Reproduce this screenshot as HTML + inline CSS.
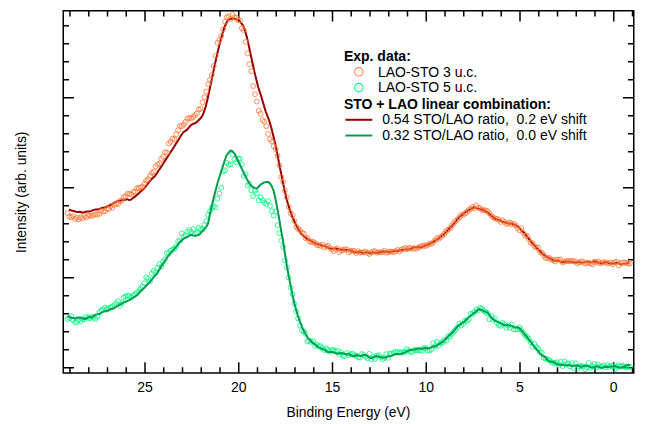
<!DOCTYPE html>
<html><head><meta charset="utf-8"><title>chart</title>
<style>
html,body{margin:0;padding:0;background:#fff;}
svg{display:block;}
text{font-family:"Liberation Sans",sans-serif;font-size:14px;fill:#000;white-space:pre;}
.b{font-weight:bold;}
</style></head><body>
<svg width="664" height="424" viewBox="0 0 664 424">
<rect x="0" y="0" width="664" height="424" fill="#fff"/>
<rect x="63.25" y="10.75" width="570.5" height="362.25" fill="none" stroke="#000" stroke-width="1.5"/>
<path d="M632.50,373.0 v-5.75 M632.50,10.75 v5.75 M613.75,373.0 v-10.75 M613.75,10.75 v10.75 M595.00,373.0 v-5.75 M595.00,10.75 v5.75 M576.25,373.0 v-5.75 M576.25,10.75 v5.75 M557.50,373.0 v-5.75 M557.50,10.75 v5.75 M538.75,373.0 v-5.75 M538.75,10.75 v5.75 M520.00,373.0 v-10.75 M520.00,10.75 v10.75 M501.25,373.0 v-5.75 M501.25,10.75 v5.75 M482.50,373.0 v-5.75 M482.50,10.75 v5.75 M463.75,373.0 v-5.75 M463.75,10.75 v5.75 M445.00,373.0 v-5.75 M445.00,10.75 v5.75 M426.25,373.0 v-10.75 M426.25,10.75 v10.75 M407.50,373.0 v-5.75 M407.50,10.75 v5.75 M388.75,373.0 v-5.75 M388.75,10.75 v5.75 M370.00,373.0 v-5.75 M370.00,10.75 v5.75 M351.25,373.0 v-5.75 M351.25,10.75 v5.75 M332.50,373.0 v-10.75 M332.50,10.75 v10.75 M313.75,373.0 v-5.75 M313.75,10.75 v5.75 M295.00,373.0 v-5.75 M295.00,10.75 v5.75 M276.25,373.0 v-5.75 M276.25,10.75 v5.75 M257.50,373.0 v-5.75 M257.50,10.75 v5.75 M238.75,373.0 v-10.75 M238.75,10.75 v10.75 M220.00,373.0 v-5.75 M220.00,10.75 v5.75 M201.25,373.0 v-5.75 M201.25,10.75 v5.75 M182.50,373.0 v-5.75 M182.50,10.75 v5.75 M163.75,373.0 v-5.75 M163.75,10.75 v5.75 M145.00,373.0 v-10.75 M145.00,10.75 v10.75 M126.25,373.0 v-5.75 M126.25,10.75 v5.75 M107.50,373.0 v-5.75 M107.50,10.75 v5.75 M88.75,373.0 v-5.75 M88.75,10.75 v5.75 M70.00,373.0 v-5.75 M70.00,10.75 v5.75 M63.25,25.7 h5.75 M633.75,25.7 h-5.75 M63.25,43.7 h5.75 M633.75,43.7 h-5.75 M63.25,61.7 h5.75 M633.75,61.7 h-5.75 M63.25,79.7 h5.75 M633.75,79.7 h-5.75 M63.25,97.7 h10.75 M633.75,97.7 h-10.75 M63.25,115.7 h5.75 M633.75,115.7 h-5.75 M63.25,133.7 h5.75 M633.75,133.7 h-5.75 M63.25,151.7 h5.75 M633.75,151.7 h-5.75 M63.25,169.7 h5.75 M633.75,169.7 h-5.75 M63.25,187.7 h10.75 M633.75,187.7 h-10.75 M63.25,205.7 h5.75 M633.75,205.7 h-5.75 M63.25,223.7 h5.75 M633.75,223.7 h-5.75 M63.25,241.7 h5.75 M633.75,241.7 h-5.75 M63.25,259.7 h5.75 M633.75,259.7 h-5.75 M63.25,277.7 h10.75 M633.75,277.7 h-10.75 M63.25,295.7 h5.75 M633.75,295.7 h-5.75 M63.25,313.7 h5.75 M633.75,313.7 h-5.75 M63.25,331.7 h5.75 M633.75,331.7 h-5.75 M63.25,349.7 h5.75 M633.75,349.7 h-5.75 M63.25,367.7 h10.75 M633.75,367.7 h-10.75" fill="none" stroke="#000" stroke-width="1.5"/>
<path d="M68.75,209.63 L70.62,210.16 L72.50,210.83 L74.38,211.15 L76.25,211.71 L78.12,211.98 L80.00,211.81 L81.88,212.44 L83.75,212.44 L85.62,211.73 L87.50,211.49 L89.38,211.38 L91.25,210.89 L93.12,210.11 L95.00,209.60 L96.88,209.61 L98.75,209.30 L100.62,208.39 L102.50,207.77 L104.38,207.65 L106.25,206.80 L108.12,205.99 L110.00,205.55 L111.88,204.29 L113.75,202.93 L115.62,201.96 L117.50,201.31 L119.38,201.11 L121.25,200.40 L123.12,199.77 L125.00,199.67 L126.88,199.18 L128.75,199.91 L130.62,199.86 L132.50,198.52 L134.38,196.97 L136.25,195.60 L138.12,193.97 L140.00,192.11 L141.88,190.45 L143.75,188.85 L145.62,186.60 L147.50,184.18 L149.38,181.70 L151.25,179.57 L153.12,177.86 L155.00,175.94 L156.88,173.23 L158.75,170.28 L160.62,167.62 L162.50,164.69 L164.38,161.74 L166.25,158.91 L168.12,156.04 L170.00,153.08 L171.88,150.24 L173.75,147.21 L175.62,144.17 L177.50,141.40 L179.38,138.33 L181.25,135.19 L183.12,132.47 L185.00,131.18 L186.88,129.84 L188.75,127.69 L190.62,125.30 L192.50,124.07 L194.38,123.58 L196.25,122.38 L198.12,120.77 L200.00,118.77 L201.88,116.76 L203.75,112.56 L205.62,107.00 L207.50,99.21 L209.38,90.45 L211.25,81.72 L213.12,72.87 L215.00,64.07 L216.88,55.43 L218.75,47.60 L220.62,40.03 L222.50,33.43 L224.38,27.41 L226.25,23.23 L228.12,20.09 L230.00,18.99 L231.88,18.75 L233.75,18.55 L235.62,18.90 L237.50,19.90 L239.38,21.10 L241.25,23.07 L243.12,25.52 L245.00,30.63 L246.88,37.10 L248.75,45.55 L250.62,54.17 L252.50,62.87 L254.38,71.62 L256.25,79.31 L258.12,86.79 L260.00,92.63 L261.88,98.42 L263.75,105.08 L265.62,111.24 L267.50,116.17 L269.38,121.01 L271.25,127.52 L273.12,134.97 L275.00,142.54 L276.88,151.96 L278.75,161.53 L280.62,171.08 L282.50,180.48 L284.38,189.49 L286.25,197.45 L288.12,204.50 L290.00,210.61 L291.88,215.26 L293.75,219.92 L295.62,224.03 L297.50,228.05 L299.38,230.81 L301.25,233.67 L303.12,235.47 L305.00,237.24 L306.88,238.62 L308.75,239.74 L310.62,240.71 L312.50,241.76 L314.38,242.96 L316.25,243.82 L318.12,244.17 L320.00,244.75 L321.88,245.55 L323.75,245.86 L325.62,246.36 L327.50,247.43 L329.38,248.21 L331.25,248.64 L333.12,248.63 L335.00,248.44 L336.88,248.70 L338.75,249.30 L340.62,249.67 L342.50,249.78 L344.38,249.81 L346.25,249.91 L348.12,250.11 L350.00,250.19 L351.88,250.87 L353.75,251.87 L355.62,252.55 L357.50,252.38 L359.38,251.80 L361.25,252.33 L363.12,253.11 L365.00,252.76 L366.88,252.24 L368.75,252.84 L370.62,253.13 L372.50,252.34 L374.38,252.64 L376.25,252.99 L378.12,252.57 L380.00,252.36 L381.88,251.84 L383.75,251.44 L385.62,251.58 L387.50,251.82 L389.38,252.00 L391.25,251.77 L393.12,251.12 L395.00,251.03 L396.88,251.31 L398.75,250.69 L400.62,249.95 L402.50,249.82 L404.38,249.62 L406.25,249.43 L408.12,249.47 L410.00,249.32 L411.88,248.39 L413.75,247.20 L415.62,247.13 L417.50,247.47 L419.38,247.37 L421.25,247.06 L423.12,246.29 L425.00,245.59 L426.88,245.20 L428.75,244.18 L430.62,243.15 L432.50,242.42 L434.38,241.13 L436.25,240.19 L438.12,239.12 L440.00,237.38 L441.88,235.80 L443.75,234.57 L445.62,232.41 L447.50,230.23 L449.38,228.47 L451.25,226.66 L453.12,224.55 L455.00,222.30 L456.88,219.96 L458.75,217.60 L460.62,215.85 L462.50,214.45 L464.38,213.08 L466.25,211.52 L468.12,210.45 L470.00,209.32 L471.88,208.32 L473.75,207.49 L475.62,207.82 L477.50,208.31 L479.38,208.92 L481.25,209.25 L483.12,209.97 L485.00,210.87 L486.88,212.05 L488.75,213.55 L490.62,215.18 L492.50,216.57 L494.38,218.21 L496.25,219.39 L498.12,219.89 L500.00,220.55 L501.88,221.53 L503.75,222.04 L505.62,222.51 L507.50,223.23 L509.38,223.42 L511.25,223.53 L513.12,224.19 L515.00,225.15 L516.88,225.74 L518.75,227.22 L520.62,229.44 L522.50,231.45 L524.38,233.15 L526.25,235.39 L528.12,237.98 L530.00,240.42 L531.88,242.73 L533.75,244.75 L535.62,246.79 L537.50,248.84 L539.38,250.84 L541.25,252.58 L543.12,254.17 L545.00,255.67 L546.88,256.88 L548.75,257.64 L550.62,258.69 L552.50,259.88 L554.38,260.90 L556.25,260.92 L558.12,260.56 L560.00,261.42 L561.88,262.35 L563.75,262.00 L565.62,261.59 L567.50,261.65 L569.38,261.74 L571.25,261.94 L573.12,262.23 L575.00,262.61 L576.88,262.36 L578.75,262.02 L580.62,262.53 L582.50,262.75 L584.38,262.29 L586.25,261.67 L588.12,261.65 L590.00,262.43 L591.88,262.20 L593.75,261.30 L595.62,261.54 L597.50,262.64 L599.38,263.30 L601.25,263.26 L603.12,262.94 L605.00,262.24 L606.88,262.29 L608.75,263.23 L610.62,263.45 L612.50,263.45 L614.38,263.46 L616.25,262.87 L618.12,262.97 L620.00,264.02 L621.88,264.38 L623.75,264.00 L625.62,263.66 L627.50,263.08 L629.38,262.73" fill="none" stroke="#990000" stroke-width="2" stroke-linejoin="round"/>
<g fill="none" stroke="#FF7535" stroke-width="0.8"><circle cx="67.50" cy="213.15" r="2.45"/><circle cx="69.38" cy="216.44" r="2.45"/><circle cx="71.25" cy="217.43" r="2.45"/><circle cx="73.12" cy="216.10" r="2.45"/><circle cx="75.00" cy="218.83" r="2.45"/><circle cx="76.88" cy="217.73" r="2.45"/><circle cx="78.75" cy="219.27" r="2.45"/><circle cx="80.62" cy="217.44" r="2.45"/><circle cx="82.50" cy="218.49" r="2.45"/><circle cx="84.38" cy="216.03" r="2.45"/><circle cx="86.25" cy="217.38" r="2.45"/><circle cx="88.12" cy="215.67" r="2.45"/><circle cx="90.00" cy="215.55" r="2.45"/><circle cx="91.88" cy="215.93" r="2.45"/><circle cx="93.75" cy="214.92" r="2.45"/><circle cx="95.62" cy="214.15" r="2.45"/><circle cx="97.50" cy="214.58" r="2.45"/><circle cx="99.38" cy="213.81" r="2.45"/><circle cx="101.25" cy="210.43" r="2.45"/><circle cx="103.12" cy="211.81" r="2.45"/><circle cx="105.00" cy="211.08" r="2.45"/><circle cx="106.88" cy="208.56" r="2.45"/><circle cx="108.75" cy="209.03" r="2.45"/><circle cx="110.62" cy="206.02" r="2.45"/><circle cx="112.50" cy="207.99" r="2.45"/><circle cx="114.38" cy="204.74" r="2.45"/><circle cx="116.25" cy="203.66" r="2.45"/><circle cx="118.12" cy="203.90" r="2.45"/><circle cx="120.00" cy="201.03" r="2.45"/><circle cx="121.88" cy="200.65" r="2.45"/><circle cx="123.75" cy="197.23" r="2.45"/><circle cx="125.62" cy="196.31" r="2.45"/><circle cx="127.50" cy="193.80" r="2.45"/><circle cx="129.38" cy="193.99" r="2.45"/><circle cx="131.25" cy="194.27" r="2.45"/><circle cx="133.12" cy="192.03" r="2.45"/><circle cx="135.00" cy="191.60" r="2.45"/><circle cx="136.88" cy="188.44" r="2.45"/><circle cx="138.75" cy="187.84" r="2.45"/><circle cx="140.62" cy="187.57" r="2.45"/><circle cx="142.50" cy="186.60" r="2.45"/><circle cx="144.38" cy="183.68" r="2.45"/><circle cx="146.25" cy="180.67" r="2.45"/><circle cx="148.12" cy="179.15" r="2.45"/><circle cx="150.00" cy="175.80" r="2.45"/><circle cx="151.88" cy="172.97" r="2.45"/><circle cx="153.75" cy="171.72" r="2.45"/><circle cx="155.62" cy="166.28" r="2.45"/><circle cx="157.50" cy="164.50" r="2.45"/><circle cx="159.38" cy="163.62" r="2.45"/><circle cx="161.25" cy="158.76" r="2.45"/><circle cx="163.12" cy="156.79" r="2.45"/><circle cx="165.00" cy="152.16" r="2.45"/><circle cx="166.88" cy="152.56" r="2.45"/><circle cx="168.75" cy="143.51" r="2.45"/><circle cx="170.62" cy="141.80" r="2.45"/><circle cx="172.50" cy="138.65" r="2.45"/><circle cx="174.38" cy="139.27" r="2.45"/><circle cx="176.25" cy="134.18" r="2.45"/><circle cx="178.12" cy="130.20" r="2.45"/><circle cx="180.00" cy="125.92" r="2.45"/><circle cx="181.88" cy="126.13" r="2.45"/><circle cx="183.75" cy="124.50" r="2.45"/><circle cx="185.62" cy="121.87" r="2.45"/><circle cx="187.50" cy="118.90" r="2.45"/><circle cx="189.38" cy="117.82" r="2.45"/><circle cx="191.25" cy="118.33" r="2.45"/><circle cx="193.12" cy="116.98" r="2.45"/><circle cx="195.00" cy="115.18" r="2.45"/><circle cx="196.88" cy="113.42" r="2.45"/><circle cx="198.75" cy="109.50" r="2.45"/><circle cx="200.62" cy="108.76" r="2.45"/><circle cx="202.50" cy="102.29" r="2.45"/><circle cx="204.38" cy="97.34" r="2.45"/><circle cx="206.25" cy="91.51" r="2.45"/><circle cx="208.12" cy="84.13" r="2.45"/><circle cx="210.00" cy="79.79" r="2.45"/><circle cx="211.88" cy="74.95" r="2.45"/><circle cx="213.75" cy="66.05" r="2.45"/><circle cx="215.62" cy="55.92" r="2.45"/><circle cx="217.50" cy="42.79" r="2.45"/><circle cx="219.38" cy="40.10" r="2.45"/><circle cx="221.25" cy="36.17" r="2.45"/><circle cx="223.12" cy="29.35" r="2.45"/><circle cx="225.00" cy="21.81" r="2.45"/><circle cx="226.88" cy="17.32" r="2.45"/><circle cx="228.75" cy="16.35" r="2.45"/><circle cx="230.62" cy="19.10" r="2.45"/><circle cx="232.50" cy="14.92" r="2.45"/><circle cx="234.38" cy="17.41" r="2.45"/><circle cx="236.25" cy="17.72" r="2.45"/><circle cx="238.12" cy="20.02" r="2.45"/><circle cx="240.00" cy="20.46" r="2.45"/><circle cx="241.88" cy="28.25" r="2.45"/><circle cx="243.75" cy="30.07" r="2.45"/><circle cx="245.62" cy="41.84" r="2.45"/><circle cx="247.50" cy="53.37" r="2.45"/><circle cx="249.38" cy="64.22" r="2.45"/><circle cx="251.25" cy="71.18" r="2.45"/><circle cx="253.12" cy="86.05" r="2.45"/><circle cx="255.00" cy="94.12" r="2.45"/><circle cx="256.88" cy="101.56" r="2.45"/><circle cx="258.75" cy="110.77" r="2.45"/><circle cx="260.62" cy="113.73" r="2.45"/><circle cx="262.50" cy="120.10" r="2.45"/><circle cx="264.38" cy="121.69" r="2.45"/><circle cx="266.25" cy="126.21" r="2.45"/><circle cx="268.12" cy="134.05" r="2.45"/><circle cx="270.00" cy="139.23" r="2.45"/><circle cx="271.88" cy="141.45" r="2.45"/><circle cx="273.75" cy="146.24" r="2.45"/><circle cx="275.62" cy="149.09" r="2.45"/><circle cx="277.50" cy="155.68" r="2.45"/><circle cx="279.38" cy="165.32" r="2.45"/><circle cx="281.25" cy="176.95" r="2.45"/><circle cx="283.12" cy="181.87" r="2.45"/><circle cx="285.00" cy="190.64" r="2.45"/><circle cx="286.88" cy="197.38" r="2.45"/><circle cx="288.75" cy="206.63" r="2.45"/><circle cx="290.62" cy="213.09" r="2.45"/><circle cx="292.50" cy="215.42" r="2.45"/><circle cx="294.38" cy="220.88" r="2.45"/><circle cx="296.25" cy="226.79" r="2.45"/><circle cx="298.12" cy="228.82" r="2.45"/><circle cx="300.00" cy="230.33" r="2.45"/><circle cx="301.88" cy="232.68" r="2.45"/><circle cx="303.75" cy="233.70" r="2.45"/><circle cx="305.62" cy="238.25" r="2.45"/><circle cx="307.50" cy="237.97" r="2.45"/><circle cx="309.38" cy="241.16" r="2.45"/><circle cx="311.25" cy="242.15" r="2.45"/><circle cx="313.12" cy="241.69" r="2.45"/><circle cx="315.00" cy="242.96" r="2.45"/><circle cx="316.88" cy="245.05" r="2.45"/><circle cx="318.75" cy="245.15" r="2.45"/><circle cx="320.62" cy="245.96" r="2.45"/><circle cx="322.50" cy="244.57" r="2.45"/><circle cx="324.38" cy="247.72" r="2.45"/><circle cx="326.25" cy="246.49" r="2.45"/><circle cx="328.12" cy="245.71" r="2.45"/><circle cx="330.00" cy="247.88" r="2.45"/><circle cx="331.88" cy="249.21" r="2.45"/><circle cx="333.75" cy="251.17" r="2.45"/><circle cx="335.62" cy="248.97" r="2.45"/><circle cx="337.50" cy="248.29" r="2.45"/><circle cx="339.38" cy="252.03" r="2.45"/><circle cx="341.25" cy="250.29" r="2.45"/><circle cx="343.12" cy="250.05" r="2.45"/><circle cx="345.00" cy="249.42" r="2.45"/><circle cx="346.88" cy="249.68" r="2.45"/><circle cx="348.75" cy="252.35" r="2.45"/><circle cx="350.62" cy="250.79" r="2.45"/><circle cx="352.50" cy="250.71" r="2.45"/><circle cx="354.38" cy="250.93" r="2.45"/><circle cx="356.25" cy="253.19" r="2.45"/><circle cx="358.12" cy="251.23" r="2.45"/><circle cx="360.00" cy="252.62" r="2.45"/><circle cx="361.88" cy="252.36" r="2.45"/><circle cx="363.75" cy="252.43" r="2.45"/><circle cx="365.62" cy="251.41" r="2.45"/><circle cx="367.50" cy="253.03" r="2.45"/><circle cx="369.38" cy="254.06" r="2.45"/><circle cx="371.25" cy="252.45" r="2.45"/><circle cx="373.12" cy="251.59" r="2.45"/><circle cx="375.00" cy="251.22" r="2.45"/><circle cx="376.88" cy="252.69" r="2.45"/><circle cx="378.75" cy="252.23" r="2.45"/><circle cx="380.62" cy="252.35" r="2.45"/><circle cx="382.50" cy="252.32" r="2.45"/><circle cx="384.38" cy="250.71" r="2.45"/><circle cx="386.25" cy="252.81" r="2.45"/><circle cx="388.12" cy="252.12" r="2.45"/><circle cx="390.00" cy="251.68" r="2.45"/><circle cx="391.88" cy="251.73" r="2.45"/><circle cx="393.75" cy="252.17" r="2.45"/><circle cx="395.62" cy="251.05" r="2.45"/><circle cx="397.50" cy="249.90" r="2.45"/><circle cx="399.38" cy="251.60" r="2.45"/><circle cx="401.25" cy="249.69" r="2.45"/><circle cx="403.12" cy="249.09" r="2.45"/><circle cx="405.00" cy="247.93" r="2.45"/><circle cx="406.88" cy="249.23" r="2.45"/><circle cx="408.75" cy="247.88" r="2.45"/><circle cx="410.62" cy="248.13" r="2.45"/><circle cx="412.50" cy="248.83" r="2.45"/><circle cx="414.38" cy="248.13" r="2.45"/><circle cx="416.25" cy="248.78" r="2.45"/><circle cx="418.12" cy="247.68" r="2.45"/><circle cx="420.00" cy="246.59" r="2.45"/><circle cx="421.88" cy="246.14" r="2.45"/><circle cx="423.75" cy="245.44" r="2.45"/><circle cx="425.62" cy="246.10" r="2.45"/><circle cx="427.50" cy="244.94" r="2.45"/><circle cx="429.38" cy="243.85" r="2.45"/><circle cx="431.25" cy="244.02" r="2.45"/><circle cx="433.12" cy="242.12" r="2.45"/><circle cx="435.00" cy="240.42" r="2.45"/><circle cx="436.88" cy="238.15" r="2.45"/><circle cx="438.75" cy="238.81" r="2.45"/><circle cx="440.62" cy="237.23" r="2.45"/><circle cx="442.50" cy="235.65" r="2.45"/><circle cx="444.38" cy="233.62" r="2.45"/><circle cx="446.25" cy="231.13" r="2.45"/><circle cx="448.12" cy="229.72" r="2.45"/><circle cx="450.00" cy="228.15" r="2.45"/><circle cx="451.88" cy="225.67" r="2.45"/><circle cx="453.75" cy="223.46" r="2.45"/><circle cx="455.62" cy="220.91" r="2.45"/><circle cx="457.50" cy="219.63" r="2.45"/><circle cx="459.38" cy="217.45" r="2.45"/><circle cx="461.25" cy="214.77" r="2.45"/><circle cx="463.12" cy="214.93" r="2.45"/><circle cx="465.00" cy="213.41" r="2.45"/><circle cx="466.88" cy="212.00" r="2.45"/><circle cx="468.75" cy="209.97" r="2.45"/><circle cx="470.62" cy="208.96" r="2.45"/><circle cx="472.50" cy="206.89" r="2.45"/><circle cx="474.38" cy="208.45" r="2.45"/><circle cx="476.25" cy="205.38" r="2.45"/><circle cx="478.12" cy="207.73" r="2.45"/><circle cx="480.00" cy="208.10" r="2.45"/><circle cx="481.88" cy="210.00" r="2.45"/><circle cx="483.75" cy="210.25" r="2.45"/><circle cx="485.62" cy="210.39" r="2.45"/><circle cx="487.50" cy="211.11" r="2.45"/><circle cx="489.38" cy="213.23" r="2.45"/><circle cx="491.25" cy="215.75" r="2.45"/><circle cx="493.12" cy="217.25" r="2.45"/><circle cx="495.00" cy="218.53" r="2.45"/><circle cx="496.88" cy="218.67" r="2.45"/><circle cx="498.75" cy="219.89" r="2.45"/><circle cx="500.62" cy="221.93" r="2.45"/><circle cx="502.50" cy="220.27" r="2.45"/><circle cx="504.38" cy="221.91" r="2.45"/><circle cx="506.25" cy="224.05" r="2.45"/><circle cx="508.12" cy="223.24" r="2.45"/><circle cx="510.00" cy="222.49" r="2.45"/><circle cx="511.88" cy="224.54" r="2.45"/><circle cx="513.75" cy="223.80" r="2.45"/><circle cx="515.62" cy="225.45" r="2.45"/><circle cx="517.50" cy="227.95" r="2.45"/><circle cx="519.38" cy="230.19" r="2.45"/><circle cx="521.25" cy="228.15" r="2.45"/><circle cx="523.12" cy="232.63" r="2.45"/><circle cx="525.00" cy="235.83" r="2.45"/><circle cx="526.88" cy="235.67" r="2.45"/><circle cx="528.75" cy="239.02" r="2.45"/><circle cx="530.62" cy="242.81" r="2.45"/><circle cx="532.50" cy="243.24" r="2.45"/><circle cx="534.38" cy="246.15" r="2.45"/><circle cx="536.25" cy="247.57" r="2.45"/><circle cx="538.12" cy="247.63" r="2.45"/><circle cx="540.00" cy="251.84" r="2.45"/><circle cx="541.88" cy="252.82" r="2.45"/><circle cx="543.75" cy="255.41" r="2.45"/><circle cx="545.62" cy="258.05" r="2.45"/><circle cx="547.50" cy="258.16" r="2.45"/><circle cx="549.38" cy="257.89" r="2.45"/><circle cx="551.25" cy="259.43" r="2.45"/><circle cx="553.12" cy="259.94" r="2.45"/><circle cx="555.00" cy="261.48" r="2.45"/><circle cx="556.88" cy="259.43" r="2.45"/><circle cx="558.75" cy="260.01" r="2.45"/><circle cx="560.62" cy="259.48" r="2.45"/><circle cx="562.50" cy="262.33" r="2.45"/><circle cx="564.38" cy="261.73" r="2.45"/><circle cx="566.25" cy="261.14" r="2.45"/><circle cx="568.12" cy="261.06" r="2.45"/><circle cx="570.00" cy="261.20" r="2.45"/><circle cx="571.88" cy="260.86" r="2.45"/><circle cx="573.75" cy="261.49" r="2.45"/><circle cx="575.62" cy="261.44" r="2.45"/><circle cx="577.50" cy="263.35" r="2.45"/><circle cx="579.38" cy="262.44" r="2.45"/><circle cx="581.25" cy="261.46" r="2.45"/><circle cx="583.12" cy="261.80" r="2.45"/><circle cx="585.00" cy="263.61" r="2.45"/><circle cx="586.88" cy="262.99" r="2.45"/><circle cx="588.75" cy="262.91" r="2.45"/><circle cx="590.62" cy="263.39" r="2.45"/><circle cx="592.50" cy="264.29" r="2.45"/><circle cx="594.38" cy="261.70" r="2.45"/><circle cx="596.25" cy="262.22" r="2.45"/><circle cx="598.12" cy="261.35" r="2.45"/><circle cx="600.00" cy="263.47" r="2.45"/><circle cx="601.88" cy="262.64" r="2.45"/><circle cx="603.75" cy="262.36" r="2.45"/><circle cx="605.62" cy="262.28" r="2.45"/><circle cx="607.50" cy="263.66" r="2.45"/><circle cx="609.38" cy="262.87" r="2.45"/><circle cx="611.25" cy="262.51" r="2.45"/><circle cx="613.12" cy="264.24" r="2.45"/><circle cx="615.00" cy="262.10" r="2.45"/><circle cx="616.88" cy="261.93" r="2.45"/><circle cx="618.75" cy="265.25" r="2.45"/><circle cx="620.62" cy="262.85" r="2.45"/><circle cx="622.50" cy="262.72" r="2.45"/><circle cx="624.38" cy="262.45" r="2.45"/><circle cx="626.25" cy="262.87" r="2.45"/><circle cx="628.12" cy="263.60" r="2.45"/><circle cx="630.00" cy="263.47" r="2.45"/></g>
<g fill="none" stroke="#00FA80" stroke-width="0.8"><circle cx="67.50" cy="319.08" r="2.45"/><circle cx="69.38" cy="318.01" r="2.45"/><circle cx="71.25" cy="316.20" r="2.45"/><circle cx="73.12" cy="320.10" r="2.45"/><circle cx="75.00" cy="322.64" r="2.45"/><circle cx="76.88" cy="321.89" r="2.45"/><circle cx="78.75" cy="319.59" r="2.45"/><circle cx="80.62" cy="321.51" r="2.45"/><circle cx="82.50" cy="318.99" r="2.45"/><circle cx="84.38" cy="319.45" r="2.45"/><circle cx="86.25" cy="316.66" r="2.45"/><circle cx="88.12" cy="317.84" r="2.45"/><circle cx="90.00" cy="318.11" r="2.45"/><circle cx="91.88" cy="316.87" r="2.45"/><circle cx="93.75" cy="317.79" r="2.45"/><circle cx="95.62" cy="318.91" r="2.45"/><circle cx="97.50" cy="316.67" r="2.45"/><circle cx="99.38" cy="312.25" r="2.45"/><circle cx="101.25" cy="310.34" r="2.45"/><circle cx="103.12" cy="309.49" r="2.45"/><circle cx="105.00" cy="307.81" r="2.45"/><circle cx="106.88" cy="308.90" r="2.45"/><circle cx="108.75" cy="308.71" r="2.45"/><circle cx="110.62" cy="307.22" r="2.45"/><circle cx="112.50" cy="306.24" r="2.45"/><circle cx="114.38" cy="305.17" r="2.45"/><circle cx="116.25" cy="303.55" r="2.45"/><circle cx="118.12" cy="301.24" r="2.45"/><circle cx="120.00" cy="305.55" r="2.45"/><circle cx="121.88" cy="303.10" r="2.45"/><circle cx="123.75" cy="297.69" r="2.45"/><circle cx="125.62" cy="296.43" r="2.45"/><circle cx="127.50" cy="295.87" r="2.45"/><circle cx="129.38" cy="295.99" r="2.45"/><circle cx="131.25" cy="297.40" r="2.45"/><circle cx="133.12" cy="295.49" r="2.45"/><circle cx="135.00" cy="294.25" r="2.45"/><circle cx="136.88" cy="292.94" r="2.45"/><circle cx="138.75" cy="291.38" r="2.45"/><circle cx="140.62" cy="288.79" r="2.45"/><circle cx="142.50" cy="286.40" r="2.45"/><circle cx="144.38" cy="283.30" r="2.45"/><circle cx="146.25" cy="277.35" r="2.45"/><circle cx="148.12" cy="278.94" r="2.45"/><circle cx="150.00" cy="281.38" r="2.45"/><circle cx="151.88" cy="273.43" r="2.45"/><circle cx="153.75" cy="270.87" r="2.45"/><circle cx="155.62" cy="272.59" r="2.45"/><circle cx="157.50" cy="267.87" r="2.45"/><circle cx="159.38" cy="264.06" r="2.45"/><circle cx="161.25" cy="266.70" r="2.45"/><circle cx="163.12" cy="261.55" r="2.45"/><circle cx="165.00" cy="259.17" r="2.45"/><circle cx="166.88" cy="252.91" r="2.45"/><circle cx="168.75" cy="253.34" r="2.45"/><circle cx="170.62" cy="250.78" r="2.45"/><circle cx="172.50" cy="249.64" r="2.45"/><circle cx="174.38" cy="248.44" r="2.45"/><circle cx="176.25" cy="246.16" r="2.45"/><circle cx="178.12" cy="241.23" r="2.45"/><circle cx="180.00" cy="240.47" r="2.45"/><circle cx="181.88" cy="233.34" r="2.45"/><circle cx="183.75" cy="236.61" r="2.45"/><circle cx="185.62" cy="235.30" r="2.45"/><circle cx="187.50" cy="231.62" r="2.45"/><circle cx="189.38" cy="229.93" r="2.45"/><circle cx="191.25" cy="232.08" r="2.45"/><circle cx="193.12" cy="229.09" r="2.45"/><circle cx="195.00" cy="233.99" r="2.45"/><circle cx="196.88" cy="232.74" r="2.45"/><circle cx="198.75" cy="227.96" r="2.45"/><circle cx="200.62" cy="229.20" r="2.45"/><circle cx="202.50" cy="229.44" r="2.45"/><circle cx="204.38" cy="224.95" r="2.45"/><circle cx="206.25" cy="221.07" r="2.45"/><circle cx="208.12" cy="214.90" r="2.45"/><circle cx="210.00" cy="211.44" r="2.45"/><circle cx="211.88" cy="207.65" r="2.45"/><circle cx="213.75" cy="206.30" r="2.45"/><circle cx="215.62" cy="207.54" r="2.45"/><circle cx="217.50" cy="198.70" r="2.45"/><circle cx="219.38" cy="193.59" r="2.45"/><circle cx="221.25" cy="187.67" r="2.45"/><circle cx="223.12" cy="171.31" r="2.45"/><circle cx="225.00" cy="170.28" r="2.45"/><circle cx="226.88" cy="162.85" r="2.45"/><circle cx="228.75" cy="164.79" r="2.45"/><circle cx="230.62" cy="164.25" r="2.45"/><circle cx="232.50" cy="154.51" r="2.45"/><circle cx="234.38" cy="159.39" r="2.45"/><circle cx="236.25" cy="162.32" r="2.45"/><circle cx="238.12" cy="158.79" r="2.45"/><circle cx="240.00" cy="158.59" r="2.45"/><circle cx="241.88" cy="164.49" r="2.45"/><circle cx="243.75" cy="175.91" r="2.45"/><circle cx="245.62" cy="174.23" r="2.45"/><circle cx="247.50" cy="185.45" r="2.45"/><circle cx="249.38" cy="183.68" r="2.45"/><circle cx="251.25" cy="190.31" r="2.45"/><circle cx="253.12" cy="196.34" r="2.45"/><circle cx="255.00" cy="190.76" r="2.45"/><circle cx="256.88" cy="193.29" r="2.45"/><circle cx="258.75" cy="200.40" r="2.45"/><circle cx="260.62" cy="197.38" r="2.45"/><circle cx="262.50" cy="200.13" r="2.45"/><circle cx="264.38" cy="202.63" r="2.45"/><circle cx="266.25" cy="204.01" r="2.45"/><circle cx="268.12" cy="201.00" r="2.45"/><circle cx="270.00" cy="205.90" r="2.45"/><circle cx="271.88" cy="211.22" r="2.45"/><circle cx="273.75" cy="215.48" r="2.45"/><circle cx="275.62" cy="211.46" r="2.45"/><circle cx="277.50" cy="225.22" r="2.45"/><circle cx="279.38" cy="233.21" r="2.45"/><circle cx="281.25" cy="240.72" r="2.45"/><circle cx="283.12" cy="247.08" r="2.45"/><circle cx="285.00" cy="260.34" r="2.45"/><circle cx="286.88" cy="267.44" r="2.45"/><circle cx="288.75" cy="277.58" r="2.45"/><circle cx="290.62" cy="287.63" r="2.45"/><circle cx="292.50" cy="294.17" r="2.45"/><circle cx="294.38" cy="303.78" r="2.45"/><circle cx="296.25" cy="311.39" r="2.45"/><circle cx="298.12" cy="318.43" r="2.45"/><circle cx="300.00" cy="325.48" r="2.45"/><circle cx="301.88" cy="330.27" r="2.45"/><circle cx="303.75" cy="331.38" r="2.45"/><circle cx="305.62" cy="333.80" r="2.45"/><circle cx="307.50" cy="341.38" r="2.45"/><circle cx="309.38" cy="340.49" r="2.45"/><circle cx="311.25" cy="341.98" r="2.45"/><circle cx="313.12" cy="341.26" r="2.45"/><circle cx="315.00" cy="345.91" r="2.45"/><circle cx="316.88" cy="344.58" r="2.45"/><circle cx="318.75" cy="346.40" r="2.45"/><circle cx="320.62" cy="346.09" r="2.45"/><circle cx="322.50" cy="348.24" r="2.45"/><circle cx="324.38" cy="350.00" r="2.45"/><circle cx="326.25" cy="348.29" r="2.45"/><circle cx="328.12" cy="349.92" r="2.45"/><circle cx="330.00" cy="351.54" r="2.45"/><circle cx="331.88" cy="349.96" r="2.45"/><circle cx="333.75" cy="350.30" r="2.45"/><circle cx="335.62" cy="351.35" r="2.45"/><circle cx="337.50" cy="350.94" r="2.45"/><circle cx="339.38" cy="354.64" r="2.45"/><circle cx="341.25" cy="352.60" r="2.45"/><circle cx="343.12" cy="355.75" r="2.45"/><circle cx="345.00" cy="356.12" r="2.45"/><circle cx="346.88" cy="352.92" r="2.45"/><circle cx="348.75" cy="354.98" r="2.45"/><circle cx="350.62" cy="354.36" r="2.45"/><circle cx="352.50" cy="353.64" r="2.45"/><circle cx="354.38" cy="355.21" r="2.45"/><circle cx="356.25" cy="355.67" r="2.45"/><circle cx="358.12" cy="357.29" r="2.45"/><circle cx="360.00" cy="357.59" r="2.45"/><circle cx="361.88" cy="354.10" r="2.45"/><circle cx="363.75" cy="354.99" r="2.45"/><circle cx="365.62" cy="356.58" r="2.45"/><circle cx="367.50" cy="358.32" r="2.45"/><circle cx="369.38" cy="353.85" r="2.45"/><circle cx="371.25" cy="359.26" r="2.45"/><circle cx="373.12" cy="356.72" r="2.45"/><circle cx="375.00" cy="359.04" r="2.45"/><circle cx="376.88" cy="355.70" r="2.45"/><circle cx="378.75" cy="355.25" r="2.45"/><circle cx="380.62" cy="357.05" r="2.45"/><circle cx="382.50" cy="359.22" r="2.45"/><circle cx="384.38" cy="357.90" r="2.45"/><circle cx="386.25" cy="354.10" r="2.45"/><circle cx="388.12" cy="357.81" r="2.45"/><circle cx="390.00" cy="353.49" r="2.45"/><circle cx="391.88" cy="353.72" r="2.45"/><circle cx="393.75" cy="352.97" r="2.45"/><circle cx="395.62" cy="351.59" r="2.45"/><circle cx="397.50" cy="352.19" r="2.45"/><circle cx="399.38" cy="352.29" r="2.45"/><circle cx="401.25" cy="352.36" r="2.45"/><circle cx="403.12" cy="352.62" r="2.45"/><circle cx="405.00" cy="351.55" r="2.45"/><circle cx="406.88" cy="349.07" r="2.45"/><circle cx="408.75" cy="350.66" r="2.45"/><circle cx="410.62" cy="352.10" r="2.45"/><circle cx="412.50" cy="351.62" r="2.45"/><circle cx="414.38" cy="349.87" r="2.45"/><circle cx="416.25" cy="350.14" r="2.45"/><circle cx="418.12" cy="350.03" r="2.45"/><circle cx="420.00" cy="350.24" r="2.45"/><circle cx="421.88" cy="351.07" r="2.45"/><circle cx="423.75" cy="348.04" r="2.45"/><circle cx="425.62" cy="348.15" r="2.45"/><circle cx="427.50" cy="350.55" r="2.45"/><circle cx="429.38" cy="350.23" r="2.45"/><circle cx="431.25" cy="349.80" r="2.45"/><circle cx="433.12" cy="343.22" r="2.45"/><circle cx="435.00" cy="346.13" r="2.45"/><circle cx="436.88" cy="341.74" r="2.45"/><circle cx="438.75" cy="345.58" r="2.45"/><circle cx="440.62" cy="343.37" r="2.45"/><circle cx="442.50" cy="342.29" r="2.45"/><circle cx="444.38" cy="340.09" r="2.45"/><circle cx="446.25" cy="340.73" r="2.45"/><circle cx="448.12" cy="336.06" r="2.45"/><circle cx="450.00" cy="336.55" r="2.45"/><circle cx="451.88" cy="333.83" r="2.45"/><circle cx="453.75" cy="331.60" r="2.45"/><circle cx="455.62" cy="329.93" r="2.45"/><circle cx="457.50" cy="327.41" r="2.45"/><circle cx="459.38" cy="323.57" r="2.45"/><circle cx="461.25" cy="325.44" r="2.45"/><circle cx="463.12" cy="323.89" r="2.45"/><circle cx="465.00" cy="320.67" r="2.45"/><circle cx="466.88" cy="320.82" r="2.45"/><circle cx="468.75" cy="319.60" r="2.45"/><circle cx="470.62" cy="313.70" r="2.45"/><circle cx="472.50" cy="314.41" r="2.45"/><circle cx="474.38" cy="312.04" r="2.45"/><circle cx="476.25" cy="309.32" r="2.45"/><circle cx="478.12" cy="310.60" r="2.45"/><circle cx="480.00" cy="308.01" r="2.45"/><circle cx="481.88" cy="308.66" r="2.45"/><circle cx="483.75" cy="310.76" r="2.45"/><circle cx="485.62" cy="312.09" r="2.45"/><circle cx="487.50" cy="313.16" r="2.45"/><circle cx="489.38" cy="319.27" r="2.45"/><circle cx="491.25" cy="316.19" r="2.45"/><circle cx="493.12" cy="319.71" r="2.45"/><circle cx="495.00" cy="318.27" r="2.45"/><circle cx="496.88" cy="322.96" r="2.45"/><circle cx="498.75" cy="325.14" r="2.45"/><circle cx="500.62" cy="325.87" r="2.45"/><circle cx="502.50" cy="322.95" r="2.45"/><circle cx="504.38" cy="324.26" r="2.45"/><circle cx="506.25" cy="327.65" r="2.45"/><circle cx="508.12" cy="325.45" r="2.45"/><circle cx="510.00" cy="327.81" r="2.45"/><circle cx="511.88" cy="324.54" r="2.45"/><circle cx="513.75" cy="329.52" r="2.45"/><circle cx="515.62" cy="329.47" r="2.45"/><circle cx="517.50" cy="329.03" r="2.45"/><circle cx="519.38" cy="327.31" r="2.45"/><circle cx="521.25" cy="330.12" r="2.45"/><circle cx="523.12" cy="332.82" r="2.45"/><circle cx="525.00" cy="335.14" r="2.45"/><circle cx="526.88" cy="336.61" r="2.45"/><circle cx="528.75" cy="338.87" r="2.45"/><circle cx="530.62" cy="342.21" r="2.45"/><circle cx="532.50" cy="346.85" r="2.45"/><circle cx="534.38" cy="343.80" r="2.45"/><circle cx="536.25" cy="347.09" r="2.45"/><circle cx="538.12" cy="348.84" r="2.45"/><circle cx="540.00" cy="352.24" r="2.45"/><circle cx="541.88" cy="352.61" r="2.45"/><circle cx="543.75" cy="357.77" r="2.45"/><circle cx="545.62" cy="358.44" r="2.45"/><circle cx="547.50" cy="359.28" r="2.45"/><circle cx="549.38" cy="360.02" r="2.45"/><circle cx="551.25" cy="362.07" r="2.45"/><circle cx="553.12" cy="362.60" r="2.45"/><circle cx="555.00" cy="363.32" r="2.45"/><circle cx="556.88" cy="362.25" r="2.45"/><circle cx="558.75" cy="364.67" r="2.45"/><circle cx="560.62" cy="361.86" r="2.45"/><circle cx="562.50" cy="366.17" r="2.45"/><circle cx="564.38" cy="361.42" r="2.45"/><circle cx="566.25" cy="364.00" r="2.45"/><circle cx="568.12" cy="363.29" r="2.45"/><circle cx="570.00" cy="366.37" r="2.45"/><circle cx="571.88" cy="363.23" r="2.45"/><circle cx="573.75" cy="368.18" r="2.45"/><circle cx="575.62" cy="363.36" r="2.45"/><circle cx="577.50" cy="368.63" r="2.45"/><circle cx="579.38" cy="366.41" r="2.45"/><circle cx="581.25" cy="365.87" r="2.45"/><circle cx="583.12" cy="366.54" r="2.45"/><circle cx="585.00" cy="369.16" r="2.45"/><circle cx="586.88" cy="367.32" r="2.45"/><circle cx="588.75" cy="362.88" r="2.45"/><circle cx="590.62" cy="367.83" r="2.45"/><circle cx="592.50" cy="366.48" r="2.45"/><circle cx="594.38" cy="363.84" r="2.45"/><circle cx="596.25" cy="367.32" r="2.45"/><circle cx="598.12" cy="364.50" r="2.45"/><circle cx="600.00" cy="366.55" r="2.45"/><circle cx="601.88" cy="366.66" r="2.45"/><circle cx="603.75" cy="365.43" r="2.45"/><circle cx="605.62" cy="367.34" r="2.45"/><circle cx="607.50" cy="364.96" r="2.45"/><circle cx="609.38" cy="366.75" r="2.45"/><circle cx="611.25" cy="365.72" r="2.45"/><circle cx="613.12" cy="366.29" r="2.45"/><circle cx="615.00" cy="369.37" r="2.45"/><circle cx="616.88" cy="366.79" r="2.45"/><circle cx="618.75" cy="365.10" r="2.45"/><circle cx="620.62" cy="366.53" r="2.45"/><circle cx="622.50" cy="365.63" r="2.45"/><circle cx="624.38" cy="366.79" r="2.45"/><circle cx="626.25" cy="366.98" r="2.45"/><circle cx="628.12" cy="366.87" r="2.45"/><circle cx="630.00" cy="366.87" r="2.45"/></g>
<path d="M67.50,316.22 L69.38,317.20 L71.25,317.49 L73.12,318.09 L75.00,318.48 L76.88,317.81 L78.75,317.52 L80.62,317.78 L82.50,318.36 L84.38,319.20 L86.25,318.56 L88.12,317.32 L90.00,317.23 L91.88,317.30 L93.75,315.90 L95.62,314.65 L97.50,314.30 L99.38,313.79 L101.25,312.87 L103.12,311.73 L105.00,311.21 L106.88,311.18 L108.75,310.18 L110.62,309.08 L112.50,308.74 L114.38,307.97 L116.25,306.63 L118.12,305.60 L120.00,304.67 L121.88,303.40 L123.75,302.43 L125.62,301.75 L127.50,300.93 L129.38,300.14 L131.25,298.89 L133.12,297.59 L135.00,296.59 L136.88,295.28 L138.75,293.12 L140.62,291.04 L142.50,289.38 L144.38,287.69 L146.25,285.80 L148.12,283.85 L150.00,281.87 L151.88,279.59 L153.75,277.15 L155.62,275.07 L157.50,272.62 L159.38,269.50 L161.25,266.37 L163.12,263.65 L165.00,260.73 L166.88,257.58 L168.75,255.27 L170.62,253.14 L172.50,250.88 L174.38,248.90 L176.25,246.72 L178.12,244.28 L180.00,241.92 L181.88,240.19 L183.75,238.56 L185.62,237.55 L187.50,236.95 L189.38,235.54 L191.25,234.73 L193.12,235.43 L195.00,235.71 L196.88,235.38 L198.75,234.94 L200.62,233.20 L202.50,230.81 L204.38,229.07 L206.25,226.84 L208.12,223.42 L210.00,213.57 L211.88,205.59 L213.75,197.52 L215.62,190.43 L217.50,183.26 L219.38,177.07 L221.25,171.19 L223.12,165.41 L225.00,159.50 L226.88,154.79 L228.75,152.53 L230.62,150.43 L232.50,151.27 L234.38,153.56 L236.25,156.95 L238.12,160.99 L240.00,165.03 L241.88,168.86 L243.75,172.68 L245.62,176.59 L247.50,180.11 L249.38,183.48 L251.25,185.68 L253.12,187.19 L255.00,188.21 L256.88,188.56 L258.75,186.49 L260.62,184.49 L262.50,183.34 L264.38,182.36 L266.25,181.92 L268.12,181.91 L270.00,183.39 L271.88,186.44 L273.75,191.07 L275.62,199.65 L277.50,209.41 L279.38,219.99 L281.25,231.22 L283.12,241.49 L285.00,253.78 L286.88,265.94 L288.75,276.15 L290.62,285.57 L292.50,294.92 L294.38,303.30 L296.25,310.27 L298.12,316.50 L300.00,321.96 L301.88,326.97 L303.75,330.78 L305.62,334.15 L307.50,337.59 L309.38,339.51 L311.25,341.41 L313.12,343.21 L315.00,344.52 L316.88,345.97 L318.75,347.38 L320.62,348.36 L322.50,348.93 L324.38,349.81 L326.25,351.31 L328.12,352.25 L330.00,351.91 L331.88,351.95 L333.75,352.42 L335.62,353.02 L337.50,353.72 L339.38,353.62 L341.25,353.08 L343.12,353.35 L345.00,353.97 L346.88,354.29 L348.75,354.36 L350.62,354.79 L352.50,356.02 L354.38,356.11 L356.25,355.06 L358.12,355.30 L360.00,356.08 L361.88,355.81 L363.75,355.05 L365.62,354.90 L367.50,356.05 L369.38,357.59 L371.25,358.06 L373.12,357.08 L375.00,356.33 L376.88,356.11 L378.75,356.58 L380.62,357.19 L382.50,357.45 L384.38,357.59 L386.25,357.22 L388.12,356.51 L390.00,356.29 L391.88,355.64 L393.75,354.63 L395.62,354.17 L397.50,354.05 L399.38,354.30 L401.25,353.85 L403.12,352.98 L405.00,352.34 L406.88,351.36 L408.75,350.48 L410.62,350.11 L412.50,349.83 L414.38,349.51 L416.25,349.00 L418.12,348.50 L420.00,348.50 L421.88,348.82 L423.75,348.21 L425.62,347.95 L427.50,348.37 L429.38,348.26 L431.25,347.15 L433.12,346.33 L435.00,346.64 L436.88,345.65 L438.75,344.08 L440.62,343.08 L442.50,342.07 L444.38,340.15 L446.25,338.32 L448.12,336.37 L450.00,334.77 L451.88,333.18 L453.75,331.04 L455.62,328.69 L457.50,326.51 L459.38,324.85 L461.25,323.65 L463.12,322.65 L465.00,320.96 L466.88,318.92 L468.75,317.22 L470.62,315.78 L472.50,314.33 L474.38,312.79 L476.25,311.35 L478.12,309.83 L480.00,309.25 L481.88,309.87 L483.75,311.00 L485.62,311.92 L487.50,312.57 L489.38,314.86 L491.25,317.30 L493.12,319.40 L495.00,320.64 L496.88,321.60 L498.75,322.33 L500.62,323.14 L502.50,324.01 L504.38,325.11 L506.25,325.34 L508.12,325.11 L510.00,325.52 L511.88,326.07 L513.75,326.95 L515.62,327.60 L517.50,327.44 L519.38,328.06 L521.25,330.26 L523.12,332.56 L525.00,334.73 L526.88,336.88 L528.75,339.33 L530.62,341.92 L532.50,344.41 L534.38,346.97 L536.25,349.04 L538.12,351.06 L540.00,353.41 L541.88,355.31 L543.75,356.33 L545.62,357.76 L547.50,359.74 L549.38,361.31 L551.25,361.75 L553.12,361.83 L555.00,362.73 L556.88,364.20 L558.75,364.69 L560.62,364.69 L562.50,365.05 L564.38,365.39 L566.25,365.32 L568.12,365.21 L570.00,365.53 L571.88,365.96 L573.75,366.04 L575.62,365.41 L577.50,365.37 L579.38,366.31 L581.25,366.74 L583.12,366.14 L585.00,365.60 L586.88,365.63 L588.75,366.28 L590.62,367.27 L592.50,367.52 L594.38,367.22 L596.25,366.58 L598.12,366.35 L600.00,367.25 L601.88,367.74 L603.75,367.14 L605.62,366.85 L607.50,366.93 L609.38,366.78 L611.25,366.64 L613.12,366.10 L615.00,366.01 L616.88,366.77 L618.75,367.54 L620.62,367.78 L622.50,367.13 L624.38,366.36 L626.25,365.57 L628.12,364.84 L630.00,365.32" fill="none" stroke="#009E50" stroke-width="2" stroke-linejoin="round"/>
<text x="145.00" y="392.4" text-anchor="middle">25</text><text x="238.75" y="392.4" text-anchor="middle">20</text><text x="332.50" y="392.4" text-anchor="middle">15</text><text x="426.25" y="392.4" text-anchor="middle">10</text><text x="520.00" y="392.4" text-anchor="middle">5</text><text x="613.75" y="392.4" text-anchor="middle">0</text>
<text x="348.4" y="416.8" text-anchor="middle" style="font-size:13.85px">Binding Energy (eV)</text>
<text transform="translate(25.6,192.3) rotate(-90)" text-anchor="middle" style="font-size:13.85px">Intensity (arb. units)</text>
<text class="b" x="343.9" y="60.5">Exp. data:</text>
<circle cx="358.8" cy="71.8" r="4.2" fill="none" stroke="#FF8552" stroke-width="1.15"/>
<text x="377.9" y="76.7">LAO-STO 3 u.c.</text>
<circle cx="358.8" cy="87.6" r="4.2" fill="none" stroke="#00FA80" stroke-width="1.15"/>
<text x="377.9" y="92.3">LAO-STO 5 u.c.</text>
<text class="b" x="343.9" y="108.5">STO + LAO linear combination:</text>
<path d="M345.5,119.8 H372.3" stroke="#990000" stroke-width="2"/>
<text x="382.2" y="124.3">0.54 STO/LAO ratio,  0.2 eV shift</text>
<path d="M345.5,135.5 H372.3" stroke="#009E50" stroke-width="2"/>
<text x="382.2" y="140">0.32 STO/LAO ratio,  0.0 eV shift</text>
</svg>
</body></html>
